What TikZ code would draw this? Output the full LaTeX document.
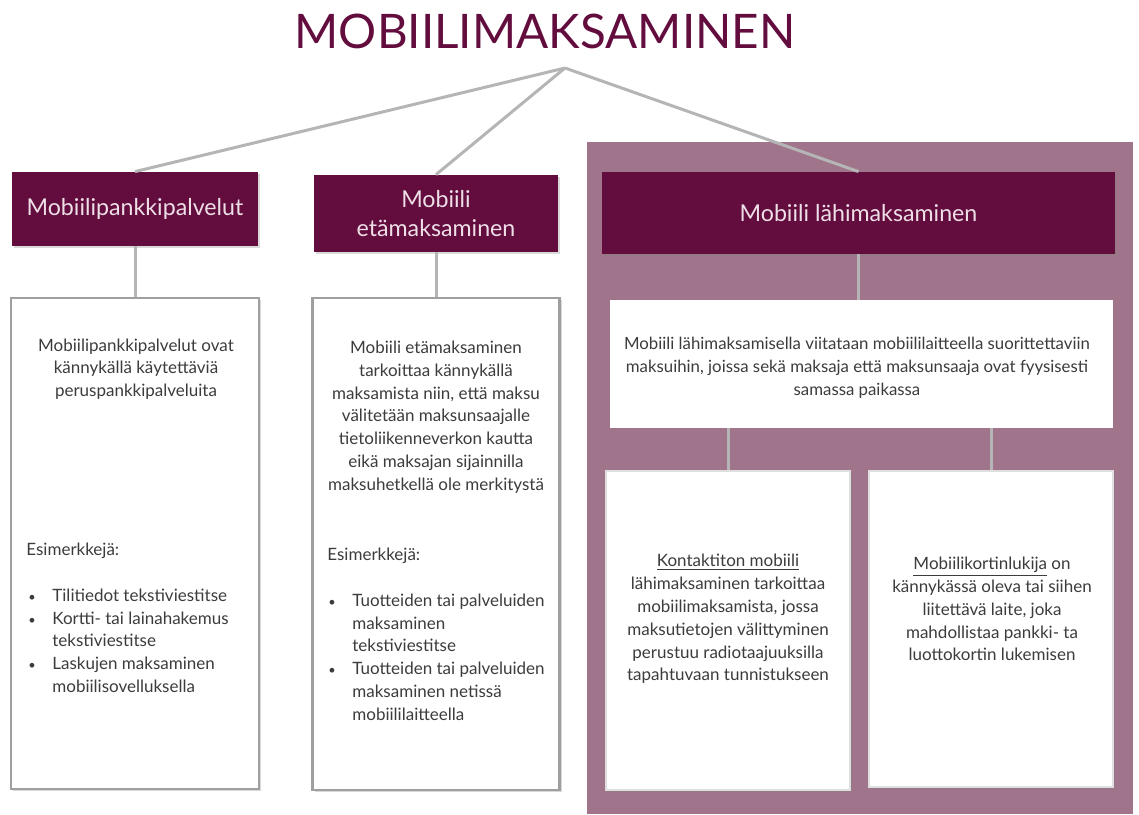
\documentclass[tikz,border=0pt]{standalone}
\usepackage{fontspec}
\setmainfont{Lato}
\usetikzlibrary{positioning,shadows}

\definecolor{plum}{HTML}{630D3F}
\definecolor{mauve}{HTML}{A0758B}
\definecolor{headtext}{HTML}{EEDFE7}
\definecolor{linegray}{HTML}{B5B5B5}
\definecolor{textgray}{HTML}{3C3C3C}

% smaller list bullet
\newcommand{\dotitem}{\scalebox{0.75}{\textbullet}}

\begin{document}
\begin{tikzpicture}[
    x=0.5pt, y=-0.5pt,
    link/.style={draw=linegray, line width=1.5pt},
    head/.style={rectangle, fill=plum, text=headtext, align=center,
        font=\fontsize{11.6}{14.5}\selectfont,
        drop shadow={opacity=0.3, shadow xshift=0.8pt, shadow yshift=-0.8pt}},
    card/.style={rectangle, fill=white, draw=gray!75, line width=1.2pt,
        drop shadow={opacity=0.3, shadow xshift=1pt, shadow yshift=-1pt}},
    subcard/.style={rectangle, fill=white, draw=gray!25, line width=0.6pt,
        drop shadow={opacity=0.35, shadow xshift=1pt, shadow yshift=-1pt}},
    txt/.style={text=textgray, align=center, inner sep=0pt,
        font=\fontsize{8.5}{11.4}\selectfont},
    list/.style={text=textgray, align=left, inner sep=0pt, anchor=north west,
        font=\fontsize{8.5}{11.4}\selectfont}
]
    \useasboundingbox (0,0) rectangle (1139,814);

    % background of the near payment branch
    \fill[mauve] (587,142) rectangle (1133,814);

    \node[text=plum, font=\fontsize{23.8}{28}\selectfont] (title) at (545,31) {MOBIILIMAKSAMINEN};
    \coordinate (root) at (565,68);

    % headers
    \node[head, minimum width=123pt, minimum height=37pt] (pankki) at (135,209) {Mobiilipankkipalvelut};
    \node[head, minimum width=122pt, minimum height=38.5pt] (eta) at (436,213.5) {Mobiili\\etämaksaminen};
    \node[head, minimum width=256.5pt, minimum height=41pt] (lahi) at (858.5,213) {Mobiili lähimaksaminen};

    % cards
    \node[card, minimum width=124pt, minimum height=245.5pt] (pankkibox) at (135,543.5) {};
    \node[card, minimum width=123.5pt, minimum height=246pt] (etabox) at (436,544) {};
    \node[rectangle, fill=white, minimum width=251.5pt, minimum height=64pt] (lahibox) at (861.5,364) {};
    \node[subcard, minimum width=122pt, minimum height=159.5pt] (kontakti) at (728,630.5) {};
    \node[subcard, minimum width=122pt, minimum height=158pt] (lukija) at (991,629) {};

    % connectors
    \draw[link] (root) -- (pankki.north);
    \draw[link] (root) -- (eta.north);
    \draw[link] (root) -- (lahi.north);
    \draw[link] (pankki) -- (pankkibox);
    \draw[link] (eta) -- (etabox);
    \draw[link] (lahi.south) -- (lahi.south |- lahibox.north);
    \draw[link] (kontakti.north) -- (kontakti.north |- lahibox.south);
    \draw[link] (lukija.north) -- (lukija.north |- lahibox.south);

    % texts
    \node[txt] (pankkitxt) at (136,369) {Mobiilipankkipalvelut ovat\\kännykällä käytettäviä\\peruspankkipalveluita};
    \node[list, anchor=base west] (pankkiesim) at (26,555) {Esimerkkejä:};
    \node[list] (pankkilist) at (28,585) {\begin{tabular}{@{}p{12pt}@{}l@{}}
        \dotitem & Tilitiedot tekstiviestitse\\
        \dotitem & Kortti- tai lainahakemus\\
                 & tekstiviestitse\\
        \dotitem & Laskujen maksaminen\\
                 & mobiilisovelluksella
    \end{tabular}};

    \node[txt] (etatxt) at (436,417) {Mobiili etämaksaminen\\tarkoittaa kännykällä\\maksamista niin, että maksu\\välitetään maksunsaajalle\\tietoliikenneverkon kautta\\eikä maksajan sijainnilla\\maksuhetkellä ole merkitystä};
    \node[list, anchor=base west] (etaesim) at (327,560) {Esimerkkejä:};
    \node[list] (etalist) at (328,590) {\begin{tabular}{@{}p{12pt}@{}l@{}}
        \dotitem & Tuotteiden tai palveluiden\\
                 & maksaminen\\
                 & tekstiviestitse\\
        \dotitem & Tuotteiden tai palveluiden\\
                 & maksaminen netissä\\
                 & mobiililaitteella
    \end{tabular}};

    \node[txt, font=\fontsize{8.4}{11.4}\selectfont] (lahitxt) at (857,368) {Mobiili lähimaksamisella viitataan mobiililaitteella suorittettaviin\\maksuihin, joissa sekä maksaja että maksunsaaja ovat fyysisesti\\samassa paikassa};
    \node[txt] (kontaktitxt) at (728,619) {\underline{Kontaktiton mobiili}\\lähimaksaminen tarkoittaa\\mobiilimaksamista, jossa\\maksutietojen välittyminen\\perustuu radiotaajuuksilla\\tapahtuvaan tunnistukseen};
    \node[txt] (lukijatxt) at (992,609) {\underline{Mobiilikortinlukija} on\\kännykässä oleva tai siihen\\liitettävä laite, joka\\mahdollistaa pankki- ta\\luottokortin lukemisen};
\end{tikzpicture}
\end{document}
